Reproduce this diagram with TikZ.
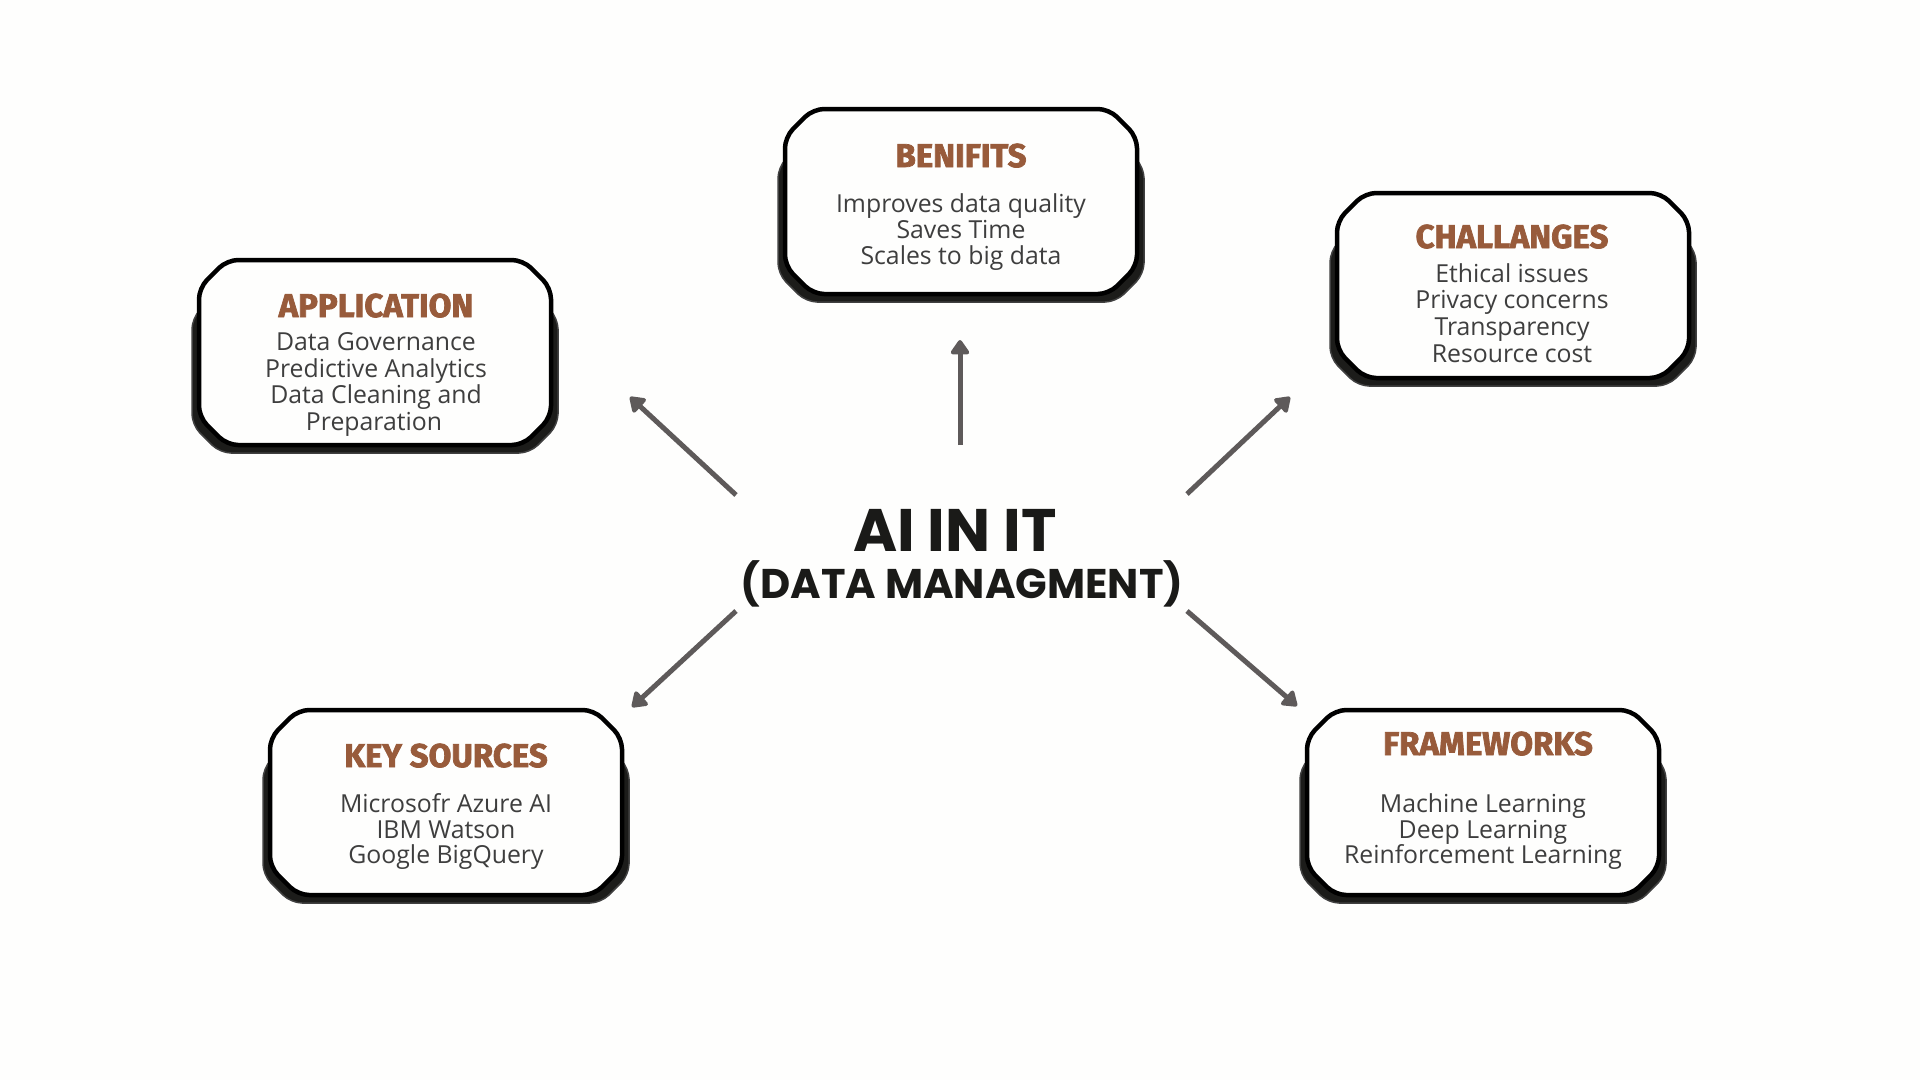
\documentclass[tikz,border=0pt]{standalone}
\usepackage{fontspec}
\setmainfont{Open Sans}
\newfontfamily\ttlfont{Fira Sans}[BoldFeatures={FakeBold=2.2}]
\newfontfamily\popfont{Poppins}
\usetikzlibrary{arrows.meta}
\definecolor{bgc}{HTML}{FEFEFD}
\definecolor{brownc}{HTML}{985B3B}
\definecolor{bodyc}{HTML}{3E3E3E}
\definecolor{centerc}{HTML}{1A1A18}
\definecolor{arrowc}{HTML}{5E5A5A}
\definecolor{shadowc}{HTML}{1C1C1A}
\newcommand{\chbox}[5]{%
  \draw[#5] ({(#1+#3)/2},#2) -- ({#3-28},#2) -- (#3,{#2+28}) -- (#3,{#4-28})
    -- ({#3-28},#4) -- ({#1+28},#4) -- (#1,{#4-28}) -- (#1,{#2+28})
    -- ({#1+28},#2) -- cycle;}
\newcommand{\cardat}[2]{% top-left of front box
  \chbox{#1-7}{#2+30}{#1+359}{#2+193}{shadowbox}
  \chbox{#1}{#2}{#1+352}{#2+185}{frontbox}}
\tikzset{
  frontbox/.style={fill=bgc, draw=black, line width=4.5pt, rounded corners=11pt, line join=round},
  shadowbox/.style={fill=shadowc, draw=black!75, line width=1.5pt, rounded corners=11pt},
  ttl/.style={inner sep=0pt, anchor=base, text=brownc, font=\ttlfont\bfseries\fontsize{33}{33}\selectfont},
  bodytxt/.style={inner sep=0pt, anchor=base, text=bodyc, font=\fontsize{24.8}{26}\selectfont},
  centertxt/.style={inner sep=0pt, anchor=base, text=centerc},
  arrowsty/.style={draw=arrowc, line width=5pt, -{Triangle[length=16pt,width=21pt,round]}}
}
\begin{document}
\begin{tikzpicture}[x=1pt,y=-1pt]
\useasboundingbox (0,0) rectangle (1920,1080);
\fill[bgc] (0,0) rectangle (1920,1080);

% cards
\cardat{785}{109}
\cardat{199}{260}
\cardat{1337}{193}
\cardat{270}{710}
\cardat{1307}{710}

% BENIFITS
\node[ttl] (tben) at (961,167) {BENIFITS};
\node[bodytxt] (ben1) at (961,212) {Improves data quality};
\node[bodytxt] (ben2) at (961,238) {Saves Time};
\node[bodytxt] (ben3) at (961,264) {Scales to big data};

% APPLICATION
\node[ttl] (tapp) at (376,317) {APPLICATION};
\node[bodytxt] (app1) at (376,350) {Data Governance};
\node[bodytxt] (app2) at (376,377) {Predictive Analytics};
\node[bodytxt] (app3) at (376,403) {Data Cleaning and};
\node[bodytxt] (app4) at (374,430) {Preparation};

% CHALLANGES
\node[ttl] (tcha) at (1512,248) {CHALLANGES};
\node[bodytxt] (cha1) at (1512,282) {Ethical issues};
\node[bodytxt] (cha2) at (1512,308) {Privacy concerns};
\node[bodytxt] (cha3) at (1512,335) {Transparency};
\node[bodytxt] (cha4) at (1512,362) {Resource cost};

% KEY SOURCES
\node[ttl] (tkey) at (446,767) {KEY SOURCES};
\node[bodytxt] (key1) at (446,812) {Microsofr Azure AI};
\node[bodytxt] (key2) at (446,838) {IBM Watson};
\node[bodytxt] (key3) at (446,863) {Google BigQuery};

% FRAMEWORKS
\node[ttl] (tfra) at (1488,755) {FRAMEWORKS};
\node[bodytxt] (fra1) at (1483,812) {Machine Learning};
\node[bodytxt] (fra2) at (1483,838) {Deep Learning};
\node[bodytxt] (fra3) at (1483,863) {Reinforcement Learning};

% center
\node[centertxt, font=\popfont\bfseries\fontsize{60}{60}\selectfont] (ai) at (955,551) {AI IN IT};
\node[centertxt, font=\popfont\bfseries\fontsize{41.5}{41.5}\selectfont] (dm) at (962,598) {(DATA MANAGMENT)};

% arrow end points
\coordinate (upS) at (960,445);  \coordinate (upE) at (960,340);
\coordinate (ulS) at (736,495);  \coordinate (ulE) at (630,397);
\coordinate (urS) at (1187,494); \coordinate (urE) at (1290,397);
\coordinate (llS) at (736,611);  \coordinate (llE) at (632,707);
\coordinate (lrS) at (1187,611); \coordinate (lrE) at (1297,706);

\draw[arrowsty] (upS) -- (upE);
\draw[arrowsty] (ulS) -- (ulE);
\draw[arrowsty] (urS) -- (urE);
\draw[arrowsty] (llS) -- (llE);
\draw[arrowsty] (lrS) -- (lrE);
\end{tikzpicture}
\end{document}
